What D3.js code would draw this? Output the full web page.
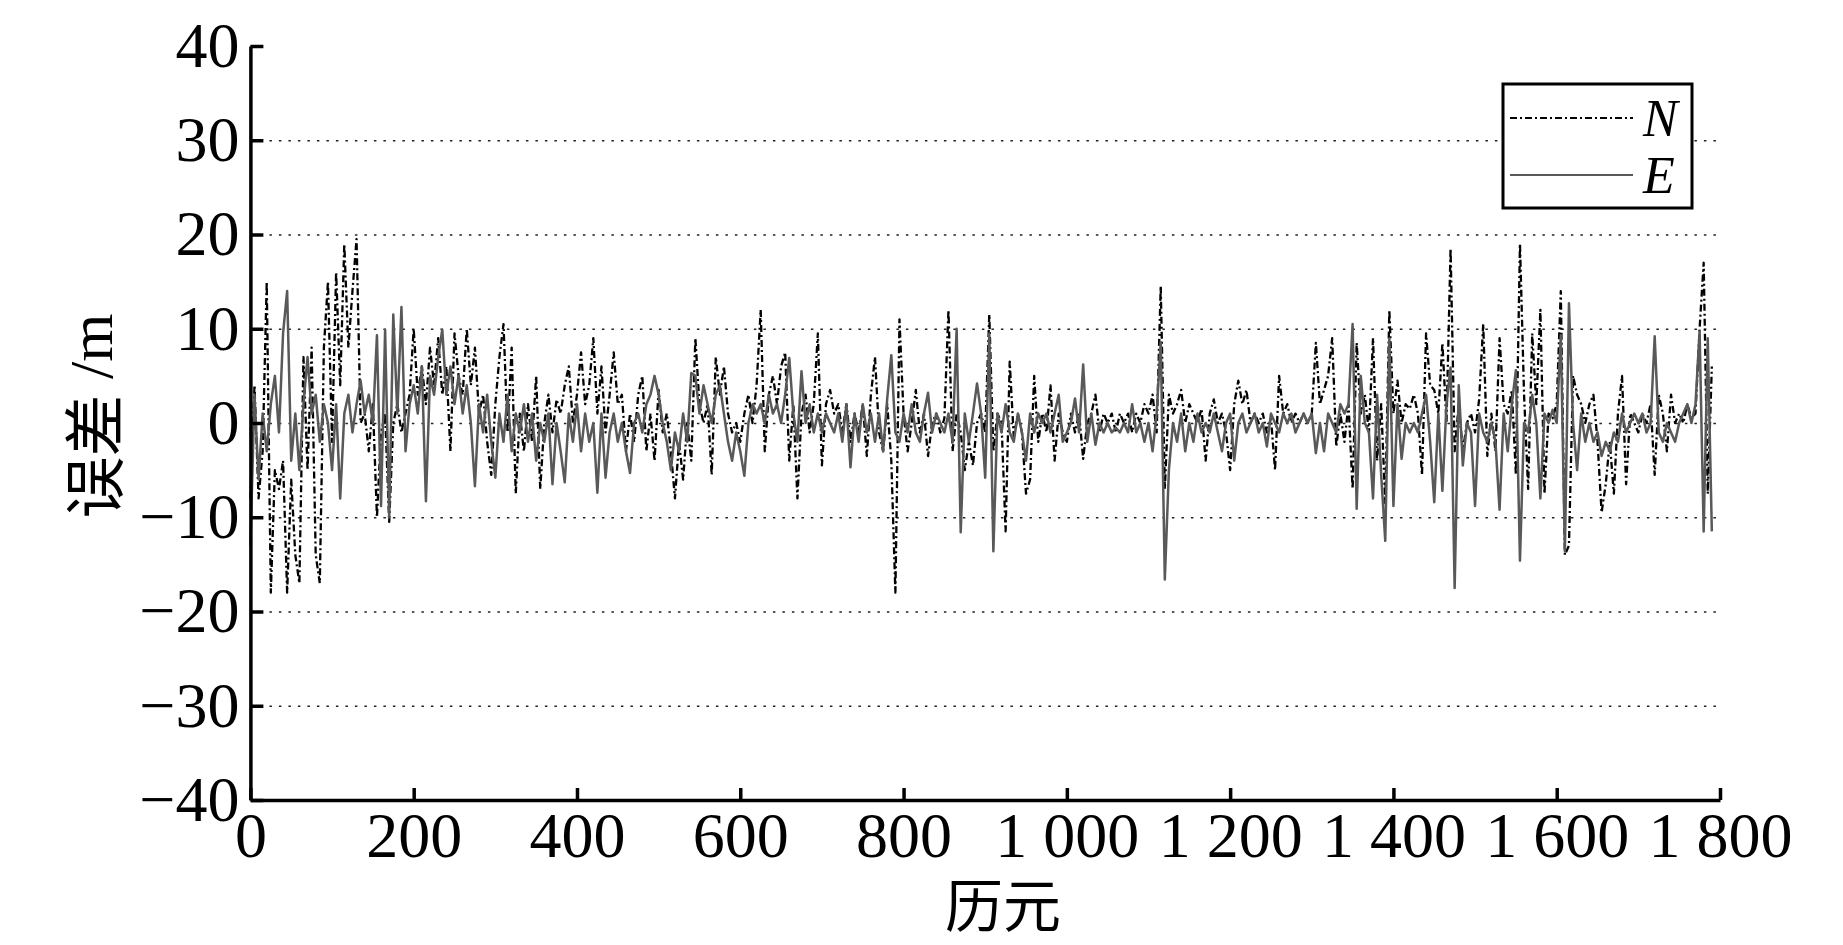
<!DOCTYPE html>
<html>
<head>
<meta charset="utf-8">
<script src="https://cdn.jsdelivr.net/npm/d3@7"></script>
<style>
  html, body { margin: 0; padding: 0; background: #fff; }
  svg { display: block; }
</style>
</head>
<body>
<svg class="error-chart"></svg>
<script>
// epochs are sampled every 5 (0, 5, ... 1790)
const epochStep = 5

// N error, m
const nError = [
  -8, 4, -8, -3, 15, -18, -5, -7, -4, -18, -6, -14, -17, 7, -5, 8, -14, -17, 8, 15,
  -2, 16, 4, 19, 8, 14, 19.5, 0, 1, -3, 2, -10, -1, 1, -10.5, 0, 2, -1, 1, 3,
  10, 3, 6, 2, 8, 4, 9, 3, 6, -3, 9.5, 5, 3, 10, 4, 8, 1, 3, -2, -5.5,
  2, 7, 10.5, -1, 8, -7.5, 1, -3, 2, -2, 5, -7, 0, 3, -1, 2.5, 1, 4, 6, 0,
  3, 7.5, 2, 4, 9, 1, 6, -1, 3, 7.5, 2, 3, -3, 1, -2, 3, 5, -3, 1, -4,
  3.5, -1, 1, -3, -8, -2, -6, 0, -4, 9, 2, 0, 2, -5.5, 7, 3, 6, 1, -1, 0,
  -2, 1, 3, 0, 4, 12, -3, 3, 5, 2, 6, 7.5, -4, 2, -8, 1, 3, -1, 2, 9.5,
  -4.5, 2, 3.5, 1, 2, -1, 2, -2, 1, -1, 2, -3.5, 3, 7, -1, -3, 2, -4, -18, 11,
  1, -3, 0, 3.5, -1, 1, -3.5, 0, 1, -1, 0.5, 12, -3, 1, -1, -5, -2, -4.5, 0, 1,
  -1, 11.5, -3, 1, 0, -11.5, 6.5, -1.5, 1, -1, -7.5, -6, 5, -2, 1, -1, 4, -4, 1, -1,
  -2, 1, -1, 1, -3.8, 0, 1, 3, -1, 1, 0, 1, -1, 1, 0, 1, -1, 1, 0, 2,
  1, 3, -1, 14.5, -7, 3, 1, 2, 3.5, 0, 2, 1, 0, 1.5, -4, 1, 2.5, 0, 1, -1,
  -5, 2, 4.5, 2, 3.5, 0, 1, 0, 1, -1, 0.5, -5, 5, 1, 2, 0, 1, 0, 1, 0,
  1, 8.5, 2, 3.5, 5, 9, -2.5, 1, -2, 2, -7, 8.5, 1, 3, -1, 9, -4, 2, -8.5, 12,
  1, 4.5, 0, 2, 1.5, 3, 1, -5.5, 9.5, 4, 3.5, 1, 8.5, 0, 18.5, -3, 2, -3, 0, 1,
  -1, 2.5, 10.5, -3.5, 1, -3, 9, 2, 1, 3.5, -5.5, 19, 3, -7, 9.5, 2, 12, -7.5, 1, 0.5,
  2, 14, -14, -13, 5, 3, 2, 0, 2, 3, -2, -9.5, -6.5, -2, -7.5, 1, 5, -6.5, 1, 0,
  -1, 1, 0, 2, -5.5, 3, 1, -3, 3, 0, 1, 0, 2, 0.5, 1, 10, 17, -7.5, 6
]

// E error, m
const eError = [
  -13, 3, -6, 1, -3, 2, 5, -1, 9.5, 14, -4, 1, -5, 2, 7, 1, 3, -2, 2, 0,
  -5, 2, -8, 1, 3, -1, 2, 4.5, 1, 3, 0, 9.3, -8.8, 9.9, -10, 11.5, 1, 12.3, -3, 2,
  4, 1, 6, -8.3, 5, 3, 7, 9.9, 3, 6, 2, 5, 1, 4, 0, -6.7, 2, -1, 3, -2,
  -5.8, 1, -2, 3, -3, 1, -1, 2, -2, 1, -4, 0, -2, 1, -6.5, 0, -3, -6.3, 1, -2,
  2, -3, 1, -2, 0, -7.4, 1, -5.8, -1, 1, -2, 0, -3, -5.3, 0, 1, -1, 2, 3, 5,
  3, 0, -2, -5, -1, -3, 1, -2, 5.3, 5, 1, 4, 2, 0, 3, 4, 1, -2, -4, -1,
  -3, -5.6, 0, 2, 1, 2, 0, 3, 1, 2, 0, 3, 6.9, 1, -2, 5.5, 0, 2, -1, 1,
  -1, 1, 0, -1, 1, -2, 2, -4.7, 1, -2, 2, -1, 1, -2, 1, -3, 2.6, 7.2, -1, -2,
  1, -1, 2, -1, -2, 1, 3.2, -1, 1, 0, -1, 1, -2, 10, -11.6, 1, -2, 1, 4.2, 1,
  -5.8, 9.5, -13.6, 1, -1, 2, -1, -2, 1, -1, -4, 1, -1, 1, 0, 1, -1, 1, 3, -2,
  -1, 0, 2.6, -1, 6.2, -2, 1, -2.3, 0, -1, 0, -1, -0.5, -1, 0, -1, 2, -1, 0, -2,
  0, -3, 1, 8.6, -16.6, -5, 0, -2, 1, -3, 0, -2, 1, -1, 0, -1, 1, -1, -3, 0,
  1, -4, 0, 1, -1, 0, 1, -1, 0, -2.5, 1, 0, -1, 1, 0, 1, -1, 0, 1, 0,
  1, -3.2, 0, -3, 1, 0, -1, 2, 1, 2, 10.5, -9.1, 5, 0, -1, -8, 3, -5.5, -12.5, 9,
  -8.8, 2, -3.8, 0, -1, 0, -1, 1, 3, -2, -8.4, 1, -7.2, 2, 5.9, -17.5, 4, -4.5, 0, -1,
  -8.8, 1, -1, -2, 0, -2, -9.2, 1, -3, 2, 5.6, -14.6, 0, -1, 3, 0, -8, 1, 0, 1.4,
  0, 9.3, -13.6, 12.7, 0, -5, 1, -2, 0, -2, -1, -3.5, -2, -3, -1, -2, 1, -1, 0, 1,
  0, 1, -1, 0, 9.2, -1, -2, 0, -1, -2, 0, 1, 2, 0, 2, 9.7, -11.5, 9, -11.5
]

const xTicks = [0, 200, 400, 600, 800, 1000, 1200, 1400, 1600, 1800]
const yTicks = [-40, -30, -20, -10, 0, 10, 20, 30, 40]
const gridTicks = [-30, -20, -10, 0, 10, 20, 30]
const seriesNames = ['N', 'E']

const W = 1843, H = 945
const M = { left: 250.4, right: W - 1720, top: 46, bottom: H - 800 }
const SERIF = '"Liberation Serif", "Times New Roman", serif'
const CJK = '"Noto Sans CJK SC", sans-serif'

const svg = d3.select('svg.error-chart').attr('width', W).attr('height', H)
svg.append('rect').attr('width', W).attr('height', H).attr('fill', '#fff')

const x = d3.scaleLinear().domain([0, 1800]).range([M.left, W - M.right])
const y = d3.scaleLinear().domain([-40, 40]).range([H - M.bottom, M.top])

// grid lines
svg.append('g')
  .attr('class', 'grid')
  .attr('transform', `translate(${M.left}, 0)`)
  .call(d3.axisRight(y).tickValues(gridTicks).tickSize(x(1800) - M.left - 3).tickFormat(''))
  .call(g => g.select('.domain').remove())
  .selectAll('line')
  .attr('stroke', '#222')
  .attr('stroke-width', 1.6)
  .attr('stroke-dasharray', '2.5,7')

// data
const toPoints = vals => vals.map((v, i) => ({ epoch: i * epochStep, v }))
const line = d3.line().x(d => x(d.epoch)).y(d => y(d.v))

svg.append('path')
  .attr('class', 'line n')
  .attr('d', line(toPoints(nError)))
  .attr('fill', 'none')
  .attr('stroke', '#000')
  .attr('stroke-width', 2.3)
  .attr('stroke-linejoin', 'round')
  .attr('stroke-dasharray', '7,3,2,3')

svg.append('path')
  .attr('class', 'line e')
  .attr('d', line(toPoints(eError)))
  .attr('fill', 'none')
  .attr('stroke', '#595959')
  .attr('stroke-width', 2.5)
  .attr('stroke-linejoin', 'round')

// axes
const fmtX = d => d >= 1000 ? `${Math.floor(d / 1000)}\u00a0${String(d % 1000).padStart(3, '0')}` : `${d}`
const fmtY = d => d < 0 ? `\u2212${-d}` : `${d}`

const xAxis = svg.append('g')
  .attr('transform', `translate(0, ${H - M.bottom})`)
  .call(d3.axisBottom(x).tickValues(xTicks).tickFormat(fmtX)
    .tickSizeInner(-12).tickSizeOuter(0).tickPadding(12))

const yAxis = svg.append('g')
  .attr('transform', `translate(${M.left}, 0)`)
  .call(d3.axisLeft(y).tickValues(yTicks).tickFormat(fmtY)
    .tickSizeInner(-13).tickSizeOuter(0).tickPadding(11))

;[xAxis, yAxis].forEach(a => {
  a.attr('font-family', SERIF).attr('font-size', 64)
  a.select('.domain').attr('stroke', '#000').attr('stroke-width', 3.5)
  a.selectAll('.tick line').attr('stroke', '#000').attr('stroke-width', 3.5)
  a.selectAll('.tick text').attr('fill', '#000')
})

// axis labels
const yLabel = svg.append('text')
  .attr('transform', 'translate(91, 416) rotate(-90)')
  .attr('text-anchor', 'middle')
  .attr('dominant-baseline', 'central')
  .attr('font-family', CJK)
  .attr('font-size', 62)
yLabel.append('tspan').text('误差')
yLabel.append('tspan').attr('font-family', SERIF).text('\u00a0/m')

svg.append('text')
  .attr('x', 1003)
  .attr('y', 927)
  .attr('text-anchor', 'middle')
  .attr('font-family', CJK)
  .attr('font-size', 58)
  .text('历元')

// legend
const legend = svg.append('g').attr('class', 'legend')
legend.append('rect')
  .attr('x', 1503).attr('y', 84).attr('width', 189).attr('height', 124)
  .attr('fill', '#fff').attr('stroke', '#000').attr('stroke-width', 3)

const legendStyles = {
  N: { stroke: '#000', width: 2, dash: '7,3,2,3' },
  E: { stroke: '#595959', width: 2.2, dash: null }
}
seriesNames.forEach((name, i) => {
  const cy = 118 + i * 57
  const s = legendStyles[name]
  legend.append('line')
    .attr('x1', 1510).attr('x2', 1633).attr('y1', cy).attr('y2', cy)
    .attr('stroke', s.stroke).attr('stroke-width', s.width)
    .attr('stroke-dasharray', s.dash)
  legend.append('text')
    .attr('x', 1643).attr('y', cy + 18)
    .attr('font-family', SERIF).attr('font-style', 'italic').attr('font-size', 52)
    .text(name)
})
</script>
</body>
</html>
